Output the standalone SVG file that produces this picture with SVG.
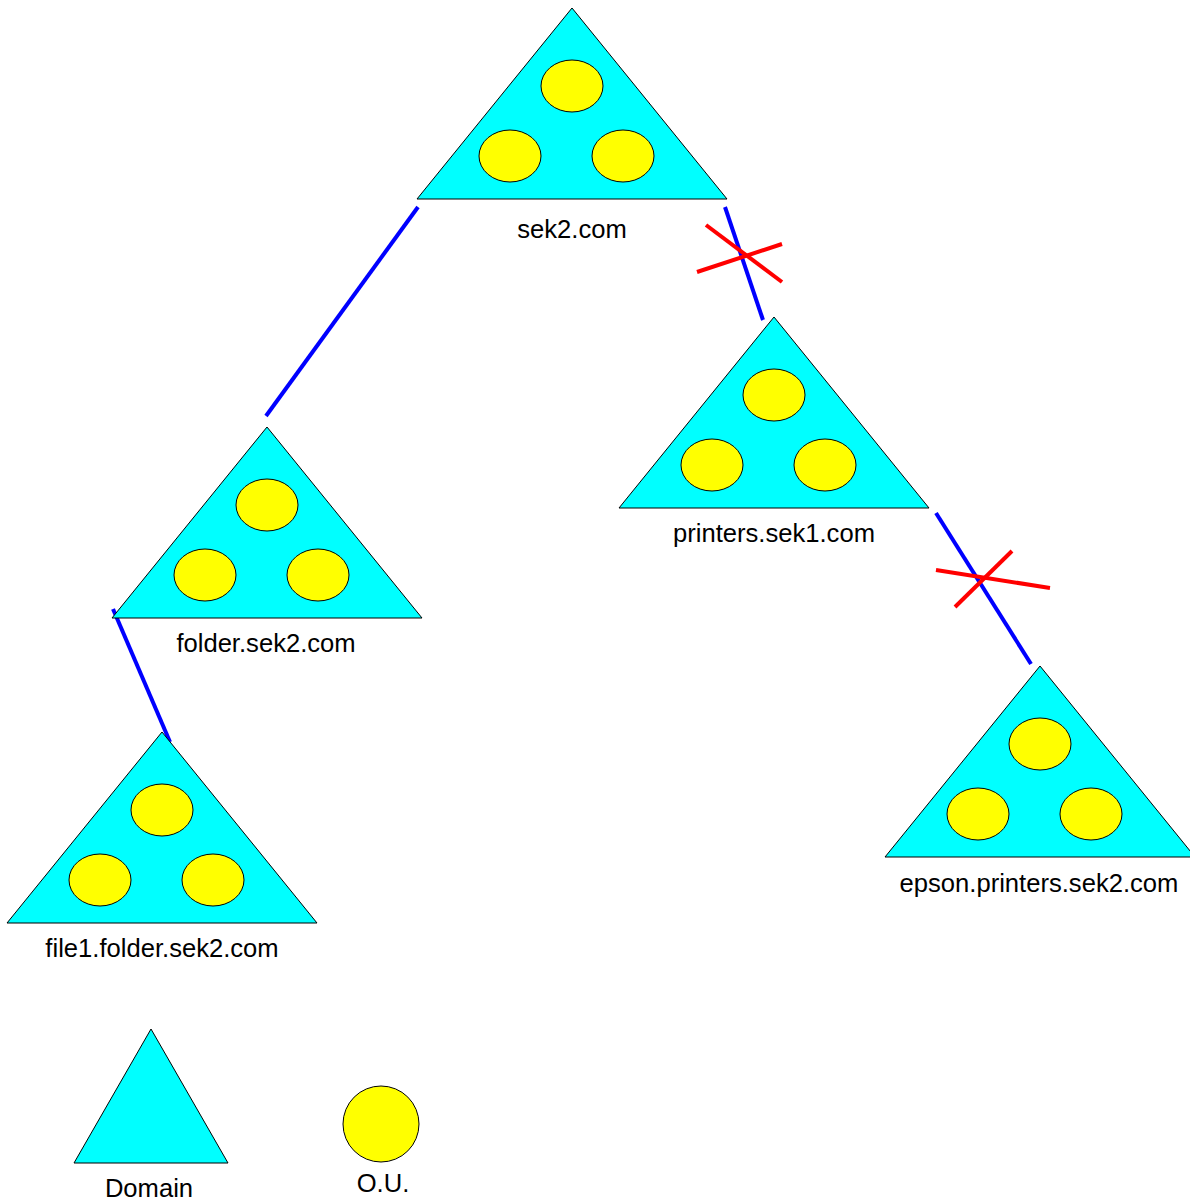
<svg xmlns="http://www.w3.org/2000/svg" xmlns:xlink="http://www.w3.org/1999/xlink" width="1190" height="1203" viewBox="0 0 1190 1203">
<style>
.tri{fill:#00ffff;stroke:#000;stroke-width:1}
.ou{fill:#ffff00;stroke:#000;stroke-width:1}
.lbl{font-family:"Liberation Sans",Arial,sans-serif;font-size:25.6px;fill:#000;text-anchor:middle}
.link{stroke:#0000ff;stroke-width:4;fill:none}
.cut{stroke:#ff0000;stroke-width:4;fill:none}
</style>
<defs>
<g id="domain">
<polygon class="tri" points="0,0 -155,191 155,191"/>
<ellipse class="ou" cx="0" cy="78" rx="31" ry="26"/>
<ellipse class="ou" cx="-62" cy="148" rx="31" ry="26"/>
<ellipse class="ou" cx="51" cy="148" rx="31" ry="26"/>
</g>
</defs>
<rect width="1190" height="1203" fill="#fff"/>
<g id="connectors">
<line class="link" x1="418" y1="207" x2="266" y2="416"/>
<line class="link" x1="725" y1="207" x2="763" y2="320"/>
<line class="link" x1="936" y1="513" x2="1031" y2="664"/>
<line class="link" x1="113" y1="609" x2="170" y2="742"/>
<line class="cut" x1="706" y1="225" x2="782" y2="282"/>
<line class="cut" x1="697" y1="272" x2="782" y2="244"/>
<line class="cut" x1="936" y1="570" x2="1050" y2="588"/>
<line class="cut" x1="955" y1="607" x2="1012" y2="551"/>
</g>
<g id="sek2">
<use xlink:href="#domain" href="#domain" x="572" y="8"/>
<text class="lbl" x="572" y="238">sek2.com</text>
</g>
<g id="printers">
<use xlink:href="#domain" href="#domain" x="774" y="317"/>
<text class="lbl" x="774" y="542">printers.sek1.com</text>
</g>
<g id="folder">
<use xlink:href="#domain" href="#domain" x="267" y="427"/>
<text class="lbl" x="266" y="652">folder.sek2.com</text>
</g>
<g id="file1">
<use xlink:href="#domain" href="#domain" x="162" y="732"/>
<text class="lbl" x="162" y="957">file1.folder.sek2.com</text>
</g>
<g id="epson">
<use xlink:href="#domain" href="#domain" x="1040" y="666"/>
<text class="lbl" x="1039" y="892">epson.printers.sek2.com</text>
</g>
<g id="legend-domain">
<polygon class="tri" points="151,1029 74,1163 228,1163"/>
<text class="lbl" x="149" y="1197">Domain</text>
</g>
<g id="legend-ou">
<circle class="ou" cx="381" cy="1124" r="38"/>
<text class="lbl" x="383" y="1192">O.U.</text>
</g>
</svg>
